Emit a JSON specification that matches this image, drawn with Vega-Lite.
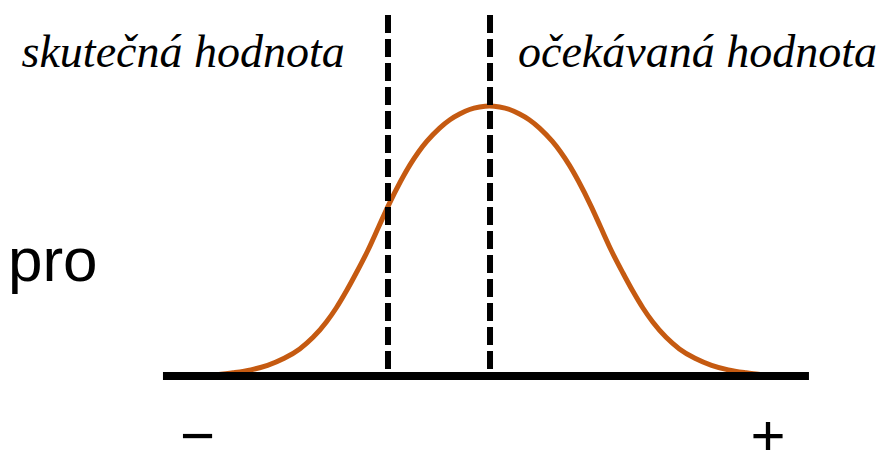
{
  "$schema": "https://vega.github.io/schema/vega-lite/v6.json",
  "width": 887,
  "height": 450,
  "autosize": {"type": "none"},
  "padding": 0,
  "background": "white",
  "config": {"view": {"stroke": null}},
  "datasets": {
    "curve": [
      {"x": -2.47, "y": 0.0},
      {"x": -2.31, "y": 0.008},
      {"x": -2.15, "y": 0.019},
      {"x": -2.0, "y": 0.036},
      {"x": -1.85, "y": 0.062},
      {"x": -1.71, "y": 0.097},
      {"x": -1.59, "y": 0.14},
      {"x": -1.47, "y": 0.197},
      {"x": -1.38, "y": 0.25},
      {"x": -1.29, "y": 0.312},
      {"x": -1.2, "y": 0.38},
      {"x": -1.1, "y": 0.46},
      {"x": -1.0, "y": 0.55},
      {"x": -0.915, "y": 0.627},
      {"x": -0.8, "y": 0.721},
      {"x": -0.717, "y": 0.781},
      {"x": -0.64, "y": 0.829},
      {"x": -0.564, "y": 0.869},
      {"x": -0.45, "y": 0.918},
      {"x": -0.357, "y": 0.949},
      {"x": -0.27, "y": 0.97},
      {"x": -0.18, "y": 0.987},
      {"x": -0.09, "y": 0.996},
      {"x": 0.0, "y": 1.0},
      {"x": 0.09, "y": 0.996},
      {"x": 0.18, "y": 0.987},
      {"x": 0.27, "y": 0.97},
      {"x": 0.357, "y": 0.949},
      {"x": 0.45, "y": 0.918},
      {"x": 0.564, "y": 0.869},
      {"x": 0.64, "y": 0.829},
      {"x": 0.717, "y": 0.781},
      {"x": 0.8, "y": 0.721},
      {"x": 0.915, "y": 0.627},
      {"x": 1.0, "y": 0.55},
      {"x": 1.1, "y": 0.46},
      {"x": 1.2, "y": 0.38},
      {"x": 1.29, "y": 0.312},
      {"x": 1.38, "y": 0.25},
      {"x": 1.47, "y": 0.197},
      {"x": 1.59, "y": 0.14},
      {"x": 1.71, "y": 0.097},
      {"x": 1.85, "y": 0.062},
      {"x": 2.0, "y": 0.036},
      {"x": 2.15, "y": 0.019},
      {"x": 2.31, "y": 0.008},
      {"x": 2.47, "y": 0.0}
    ],
    "baseline": [{"x": -2.942, "x2": 2.877, "y": -0.004}],
    "dashes": [
      {"x": -0.915, "y": 1.338, "y2": 0.0223},
      {"x": 0.004, "y": 1.338, "y2": 0.0223}
    ],
    "serif": [
      {"x": -4.216, "y": 1.145, "text": "skutečná hodnota"},
      {"x": 0.256, "y": 1.145, "text": "očekávaná hodnota"}
    ],
    "pro": [{"x": -4.338, "y": 0.349, "text": "pro"}],
    "signs": [
      {"x": -2.631, "y": -0.301, "text": "−"},
      {"x": 2.508, "y": -0.301, "text": "+"}
    ]
  },
  "encoding": {
    "x": {"field": "x", "type": "quantitative", "scale": {"domain": [-4.41, 3.58], "nice": false, "zero": false}, "axis": null},
    "y": {"field": "y", "type": "quantitative", "scale": {"domain": [-0.2788, 1.394], "nice": false, "zero": false}, "axis": null}
  },
  "layer": [
    {
      "data": {"name": "curve"},
      "mark": {"type": "line", "interpolate": "monotone", "color": "#C55A11", "strokeWidth": 5},
      "encoding": {}
    },
    {
      "data": {"name": "baseline"},
      "mark": {"type": "rule", "color": "black", "strokeWidth": 8, "strokeCap": "butt"},
      "encoding": {"x2": {"field": "x2"}}
    },
    {
      "data": {"name": "dashes"},
      "mark": {"type": "rule", "color": "black", "strokeWidth": 6, "strokeDash": [18, 6], "strokeCap": "butt"},
      "encoding": {"y2": {"field": "y2"}}
    },
    {
      "data": {"name": "serif"},
      "mark": {"type": "text", "font": "Liberation Serif", "fontStyle": "italic", "fontSize": 46, "align": "left", "baseline": "alphabetic", "color": "black"},
      "encoding": {"text": {"field": "text"}}
    },
    {
      "data": {"name": "pro"},
      "mark": {"type": "text", "font": "Liberation Sans", "fontSize": 62, "align": "left", "baseline": "alphabetic", "color": "black"},
      "encoding": {"text": {"field": "text"}}
    },
    {
      "data": {"name": "signs"},
      "mark": {"type": "text", "font": "Liberation Sans", "fontSize": 60, "align": "center", "baseline": "alphabetic", "color": "black"},
      "encoding": {"text": {"field": "text"}}
    }
  ]
}
